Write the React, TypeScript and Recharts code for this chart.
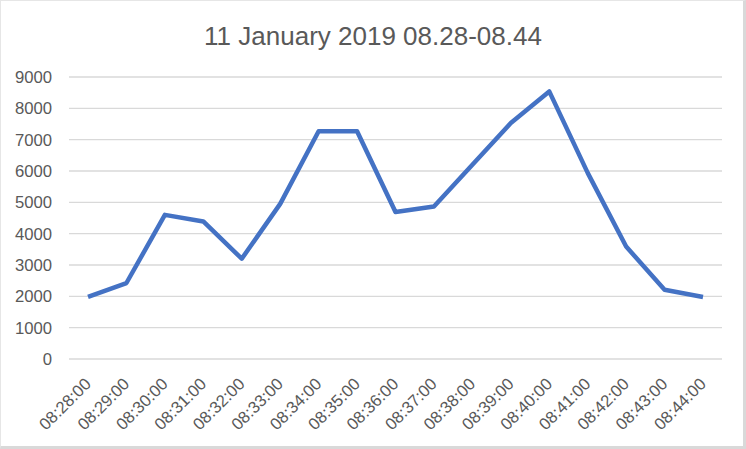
import { LineChart, Line, XAxis, YAxis, CartesianGrid } from "recharts";

const times = [
    "08:28:00", "08:29:00", "08:30:00", "08:31:00", "08:32:00", "08:33:00",
    "08:34:00", "08:35:00", "08:36:00", "08:37:00", "08:38:00", "08:39:00",
    "08:40:00", "08:41:00", "08:42:00", "08:43:00", "08:44:00",
];
const counts = [
    1980, 2425, 4600, 4390, 3200, 4950, 7270, 7270, 4690, 4870, 6200, 7530,
    8540, 5940, 3590, 2210, 1980,
];
const yTicks = [0, 1000, 2000, 3000, 4000, 5000, 6000, 7000, 8000, 9000];
const title = "11 January 2019 08.28-08.44";

const data = times.map((t, i) => ({ time: t, value: counts[i] }));

const FONT = "'Liberation Sans', Arial, sans-serif";
const TEXT = "#595959";

const XTick = (props: any) => {
    const { x, y, payload } = props;
    const ax = x + 4;
    const ay = y + 26;
    return (
        <text
            x={ax}
            y={ay}
            transform={`rotate(-45, ${ax}, ${ay})`}
            textAnchor="end"
            fill={TEXT}
            fontSize={16.7}
            fontFamily={FONT}
        >
            {payload.value}
        </text>
    );
};

const App = () => {
    return (
        <div
            style={{
                position: "absolute",
                left: 0,
                top: 0,
                width: 746,
                height: 449,
                boxSizing: "border-box",
                borderRight: "3px solid #d9d9d9",
                borderBottom: "3px solid #d9d9d9",
                borderLeft: "1px solid #e6e6e6",
                borderTop: "1px solid #e6e6e6",
                background: "#fff",
            }}
        >
            <div style={{ position: "absolute", left: -1, top: -1 }}>
                <LineChart
                    width={746}
                    height={449}
                    data={data}
                    margin={{ top: 77, right: 24, bottom: 0, left: 0 }}
                >
                    <text
                        x={373}
                        y={45}
                        textAnchor="middle"
                        fill={TEXT}
                        fontSize={26}
                        fontFamily={FONT}
                    >
                        {title}
                    </text>
                    <CartesianGrid vertical={false} stroke="#d9d9d9" strokeWidth={1.3} />
                    <XAxis
                        dataKey="time"
                        interval={0}
                        height={90}
                        axisLine={false}
                        tickLine={false}
                        tickSize={0}
                        tickMargin={0}
                        padding={{ left: 19, right: 19 }}
                        tick={<XTick />}
                    />
                    <YAxis
                        domain={[0, 9000]}
                        ticks={yTicks}
                        width={69}
                        axisLine={false}
                        tickLine={false}
                        tickSize={0}
                        tickMargin={17}
                        tick={{ fill: TEXT, fontSize: 16.7, fontFamily: FONT }}
                    />
                    <Line
                        type="linear"
                        dataKey="value"
                        stroke="#4472c4"
                        strokeWidth={4.5}
                        strokeLinejoin="round"
                        dot={false}
                        activeDot={false}
                        isAnimationActive={false}
                    />
                </LineChart>
            </div>
        </div>
    );
};

export default App;
